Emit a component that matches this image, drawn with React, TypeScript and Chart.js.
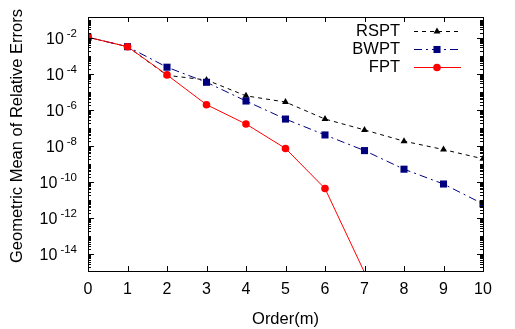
import React, { useEffect, useRef } from 'react';
import { Chart, registerables } from 'chart.js';

Chart.register(...registerables);

const orders = [0, 1, 2, 3, 4, 5, 6, 7, 8, 9, 10];
const rsptValues = [1.1e-2, 3.3e-3, 8.5e-5, 4.7e-5, 6.2e-6, 2.8e-6, 3.2e-7, 8e-8, 1.9e-8, 6.5e-9, 2e-9];
const bwptValues = [1.1e-2, 3.3e-3, 2.4e-4, 3.5e-5, 3.2e-6, 3.2e-7, 4.2e-8, 5.7e-9, 5.3e-10, 8e-11, 6.3e-12];
const fptValues: (number | null)[] = [1.1e-2, 3.3e-3, 9e-5, 2e-6, 1.7e-7, 7.5e-9, 4.5e-11, 1e-15, null, null, null];
const seriesNames = ['RSPT', 'BWPT', 'FPT'];
const yTickValues = [1e-2, 1e-4, 1e-6, 1e-8, 1e-10, 1e-12, 1e-14];
const yTickBases = ['10', '10', '10', '10', '10', '10', '10'];
const yTickExponents = ['-2', '-4', '-6', '-8', '-10', '-12', '-14'];
const xTickLabels = ['0', '1', '2', '3', '4', '5', '6', '7', '8', '9', '10'];
const xTitle = 'Order(m)';
const yTitle = 'Geometric Mean of Relative Errors';

const Y_MIN = 1.2e-15;
const Y_MAX = 0.146;
const FONT = '"Liberation Sans", Arial, Helvetica, sans-serif';

const styles = [
  { color: '#000000', dash: [4, 4], shape: 'triangle', radius: 4 },
  { color: '#00007f', dash: [8, 4, 2, 4], shape: 'rect', radius: 5 },
  { color: '#ff0000', dash: [] as number[], shape: 'circle', radius: 3.8 },
];

function drawMarker(ctx: CanvasRenderingContext2D, shape: string, x: number, y: number, r: number, color: string) {
  ctx.save();
  ctx.fillStyle = color;
  ctx.setLineDash([]);
  ctx.beginPath();
  if (shape === 'circle') {
    ctx.arc(x, y, r, 0, Math.PI * 2);
  } else if (shape === 'rect') {
    const s = Math.SQRT1_2 * r;
    ctx.rect(x - s, y - s, 2 * s, 2 * s);
  } else {
    const w = r * Math.sin(Math.PI / 3);
    ctx.moveTo(x, y - r);
    ctx.lineTo(x + w, y + r / 2);
    ctx.lineTo(x - w, y + r / 2);
    ctx.closePath();
  }
  ctx.fill();
  ctx.restore();
}

const framePlugin = {
  id: 'frameTicks',
  afterDraw(chart: any) {
    const { ctx, chartArea } = chart;
    const { left, right, top, bottom } = chartArea;
    const xs = chart.scales.x;
    const ys = chart.scales.y;
    ctx.save();
    ctx.strokeStyle = '#000';
    ctx.lineWidth = 1;
    ctx.setLineDash([]);
    ctx.beginPath();
    for (const v of orders) {
      const px = Math.round(xs.getPixelForValue(v)) + 0.5;
      ctx.moveTo(px, bottom);
      ctx.lineTo(px, bottom - 5);
      ctx.moveTo(px, top);
      ctx.lineTo(px, top + 5);
    }
    for (let k = -16; k <= 0; k++) {
      for (let m = 1; m <= 9; m++) {
        const v = m * Math.pow(10, k);
        const py = ys.getPixelForValue(v);
        if (py < top || py > bottom) continue;
        const major = m === 1 && k % 2 === 0;
        const len = major ? 6 : 3;
        const y = Math.round(py) + 0.5;
        ctx.moveTo(left, y);
        ctx.lineTo(left + len, y);
        ctx.moveTo(right, y);
        ctx.lineTo(right - len, y);
      }
    }
    ctx.stroke();
    ctx.strokeRect(Math.round(left) + 0.5, Math.round(top) + 0.5, Math.round(right - left), Math.round(bottom - top));

    // y tick labels with superscript exponents
    ctx.fillStyle = '#000';
    ctx.textBaseline = 'alphabetic';
    yTickValues.forEach((v, i) => {
      const py = ys.getPixelForValue(v);
      ctx.font = `11.5px ${FONT}`;
      const ew = ctx.measureText(yTickExponents[i]).width;
      const ex = 77 - ew;
      ctx.textAlign = 'left';
      ctx.fillText(yTickExponents[i], ex, py - 1.3);
      ctx.font = `16px ${FONT}`;
      ctx.textAlign = 'right';
      ctx.fillText(yTickBases[i], ex - 3, py + 6);
    });

    // y axis title
    ctx.save();
    ctx.translate(17, 136);
    ctx.rotate(-Math.PI / 2);
    ctx.font = `16.5px ${FONT}`;
    ctx.textAlign = 'center';
    ctx.textBaseline = 'middle';
    ctx.fillText(yTitle, 0, 0);
    ctx.restore();

    // legend
    ctx.font = `16.5px ${FONT}`;
    ctx.textAlign = 'right';
    ctx.textBaseline = 'middle';
    const rowY = [31, 49, 67];
    seriesNames.forEach((name, i) => {
      const st = styles[i];
      const y = rowY[i];
      ctx.fillStyle = '#000';
      ctx.fillText(name, 400, y);
      ctx.strokeStyle = st.color;
      ctx.setLineDash(st.dash);
      ctx.beginPath();
      ctx.moveTo(414, y + 0.5);
      ctx.lineTo(461, y + 0.5);
      ctx.stroke();
      drawMarker(ctx, st.shape, 437, y + 0.5, st.radius, st.color);
    });
    ctx.restore();
  },
};

export default function App() {
  const ref = useRef<HTMLCanvasElement>(null);
  useEffect(() => {
    document.body.style.margin = '0';
    if (!ref.current) return;
    const seriesData = [rsptValues, bwptValues, fptValues];
    const chart = new Chart(ref.current, {
      type: 'line',
      data: {
        labels: orders,
        datasets: seriesNames.map((name, i) => ({
          label: name,
          data: orders.map((o, j) => ({ x: o, y: seriesData[i][j] as any })),
          borderColor: styles[i].color,
          backgroundColor: styles[i].color,
          borderDash: styles[i].dash,
          borderWidth: 1,
          pointStyle: styles[i].shape as any,
          pointRadius: (c: any) => (c.raw && c.raw.y != null && c.raw.y < Y_MIN ? 0 : styles[i].radius),
          pointBorderWidth: 0,
          pointBackgroundColor: styles[i].color,
          fill: false,
          tension: 0,
          spanGaps: false,
          clip: 0,
          order: 3 - i,
        })),
      },
      options: {
        animation: false,
        responsive: false,
        layout: { padding: { top: 17, right: 32, left: 0, bottom: 0 } },
        plugins: { legend: { display: false }, tooltip: { enabled: false } },
        scales: {
          x: {
            type: 'linear',
            min: 0,
            max: 10,
            grid: { display: false, drawTicks: false },
            border: { display: false },
            afterBuildTicks: (scale: any) => {
              scale.ticks = orders.map((v) => ({ value: v }));
            },
            afterFit: (scale: any) => {
              scale.height = 58;
            },
            ticks: {
              color: '#000',
              padding: 9,
              maxRotation: 0,
              font: { family: FONT, size: 16 },
              callback: (v: any) => xTickLabels[orders.indexOf(Number(v))] ?? '',
            },
            title: {
              display: true,
              text: xTitle,
              color: '#000',
              font: { family: FONT, size: 16.5 },
              padding: { top: 0, bottom: 0 },
            },
          },
          y: {
            type: 'logarithmic',
            min: Y_MIN,
            max: Y_MAX,
            grid: { display: false, drawTicks: false },
            border: { display: false },
            afterBuildTicks: (scale: any) => {
              scale.ticks = yTickValues.map((v) => ({ value: v }));
            },
            afterFit: (scale: any) => {
              scale.width = 88;
            },
            ticks: { display: false },
            title: { display: false },
          },
        },
      },
      plugins: [framePlugin],
    });
    return () => chart.destroy();
  }, []);
  return (
    <div style={{ width: 515, height: 329 }}>
      <canvas ref={ref} width={515} height={329} />
    </div>
  );
}
